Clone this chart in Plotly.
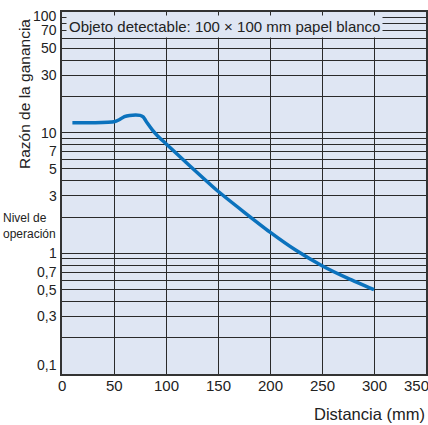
import math
import plotly.graph_objects as go

# Gain ratio vs. sensing distance
distance_mm = [10, 30, 50, 55, 60, 65, 75, 78, 82, 87, 92, 100, 122, 150, 175, 200, 225, 250, 275, 300]
gain_ratio = [12.1, 12.1, 12.3, 12.8, 13.6, 13.9, 13.9, 13.5, 12.0, 10.5, 9.4, 8.1, 5.4, 3.27, 2.2, 1.5, 1.06, 0.79, 0.62, 0.5]

# Axis ticks and labels
x_ticks = [0, 50, 100, 150, 200, 250, 300, 350]
y_grid = [0.1, 0.2, 0.3, 0.4, 0.5, 0.6, 0.7, 0.8, 0.9,
          1, 2, 3, 4, 5, 6, 7, 8, 9,
          10, 20, 30, 40, 50, 60, 70, 80, 90, 100]
y_label_vals = [100, 70, 50, 30, 10, 7, 5, 3, 1, 0.7, 0.5, 0.3, 0.1]
y_label_text = ["100", "70", "50", "30", "10", "7", "5", "3", "1", "0,7", "0,5", "0,3", "0,1"]

PLOT_BG = "#dfe6f3"
GRID = "#2a2a2a"
FONT = "Liberation Sans, Arial, sans-serif"
TXT = "#222"

# plot area in pixels: left 62, right 426, top 12, bottom 374
L, R, T, B = 62, 426, 12, 374
PW, PH = R - L, B - T


def px_x(p):
    return (p - L) / PW


def px_y(p):
    return (B - p) / PH


fig = go.Figure()
fig.add_trace(go.Scatter(
    x=distance_mm, y=gain_ratio, mode="lines",
    line=dict(color="#0b72bd", width=3.5, shape="spline", smoothing=0.6),
    hoverinfo="skip", showlegend=False,
))

annotations = []
# y tick labels (log axis: annotation positions are in log10 units)
for v, t in zip(y_label_vals, y_label_text):
    shift = 0
    if v == 100:
        shift = -4
    elif v == 70:
        shift = 1
    elif v == 0.1:
        shift = 9
    annotations.append(dict(
        x=0, xref="paper", xanchor="right", xshift=-3,
        y=math.log10(v), yref="y", yanchor="middle", yshift=shift,
        text=t, showarrow=False, font=dict(size=14, color=TXT, family=FONT),
    ))
# x tick labels
for v in x_ticks:
    annotations.append(dict(
        x=v, xref="x", xanchor="center", xshift=-10 if v == 350 else 0,
        y=0, yref="paper", yanchor="top", yshift=-1,
        text=str(v), showarrow=False, font=dict(size=15, color=TXT, family=FONT),
    ))
annotations += [
    dict(x=3.5, xref="x", xanchor="left", y=math.log10(76), yref="y", yanchor="middle",
         text="Objeto detectable: 100 × 100 mm papel blanco", showarrow=False,
         bgcolor=PLOT_BG, borderpad=2,
         font=dict(size=15, color=TXT, family=FONT)),
    dict(x=0, xref="paper", xanchor="right", xshift=-4, y=math.log10(1.7), yref="y", yanchor="middle",
         text="Nivel de<br>operación", align="left", showarrow=False,
         font=dict(size=12, color=TXT, family=FONT)),
    dict(x=px_x(25), xref="paper", xanchor="center", y=px_y(94), yref="paper", yanchor="middle",
         text="Razón de la ganancia", textangle=-90, showarrow=False,
         font=dict(size=15.5, color=TXT, family=FONT)),
    dict(x=1, xref="paper", xanchor="right", xshift=1, y=0, yref="paper", yanchor="top", yshift=-29,
         text="Distancia (mm)", showarrow=False,
         font=dict(size=16.5, color=TXT, family=FONT)),
]

fig.update_layout(
    width=428, height=425,
    margin=dict(l=L, r=428 - R, t=T, b=425 - B, autoexpand=False),
    paper_bgcolor="white", plot_bgcolor=PLOT_BG,
    font=dict(family=FONT, color=TXT),
    annotations=annotations,
    xaxis=dict(
        range=[0, 350], tickvals=x_ticks, showticklabels=False, ticks="",
        showgrid=True, gridcolor=GRID, gridwidth=1,
        showline=True, linecolor="#333", linewidth=2, mirror=True, zeroline=False,
    ),
    yaxis=dict(
        type="log", range=[-1, 2], tickvals=y_grid, showticklabels=False, ticks="",
        showgrid=True, gridcolor=GRID, gridwidth=1,
        showline=True, linecolor="#333", linewidth=2, mirror=True, zeroline=False,
    ),
)

fig.write_html("out.html")
